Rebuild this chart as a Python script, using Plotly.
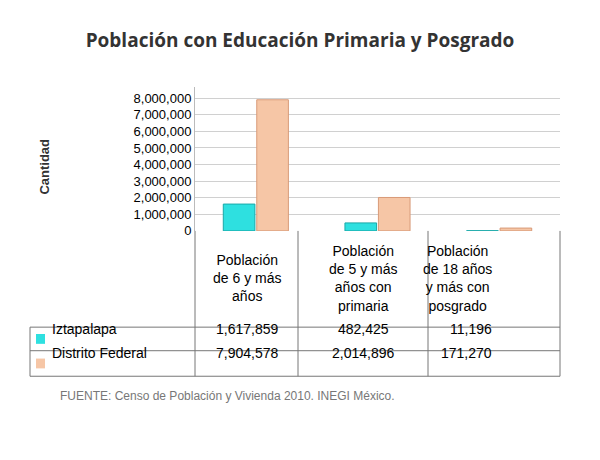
import plotly.graph_objects as go

categories = ["Población<br>de 6 y más<br>años", "Población<br>de 5 y más<br>años con<br>primaria", "Población<br>de 18 años<br>y más con<br>posgrado"]
series_names = ["Iztapalapa", "Distrito Federal"]
iztapalapa = [1617859, 482425, 11196]
distrito = [7904578, 2014896, 171270]
y_ticks = [0, 1000000, 2000000, 3000000, 4000000, 5000000, 6000000, 7000000, 8000000]
colors = ["#2ee0e0", "#f6c6a6"]
lines = ["#1aa8a8", "#d89a78"]

OFF = 8
W, H = 584, 444
def px(x): return (x - OFF) / W
def py(y): return 1 - (y - OFF) / H

x0, x1 = 195, 560
fig = go.Figure()
for name, vals, c, lc in zip(series_names, [iztapalapa, distrito], colors, lines):
    fig.add_bar(x=[0, 1, 2], y=vals, name=name, marker=dict(color=c, line=dict(color=lc, width=1)), width=0.26)

fig.update_layout(
    width=W, height=H, margin=dict(l=0, r=0, t=0, b=0),
    paper_bgcolor="white", plot_bgcolor="white", showlegend=False,
    barmode="group", bargap=0.45, bargroupgap=0.05,
    font=dict(family="Liberation Sans", color="black"),
    xaxis=dict(domain=[px(x0), px(x1)], range=[-0.5, 2.5], showticklabels=False,
               showgrid=False, zeroline=False, showline=False),
    yaxis=dict(domain=[py(235), py(88)], range=[0, 8.7e6], tickvals=y_ticks,
               tickformat=",d", showgrid=True, gridcolor="#d0d0d0", ticks="",
               tickfont=dict(size=13, family="Liberation Sans"), zeroline=False,
               showline=True, linecolor="#bbbbbb"),
    title=dict(text="<b>Población con Educación Primaria y Posgrado</b>", x=px(300), y=py(40),
               xanchor="center", yanchor="middle", font=dict(size=19, color="#333", family="Open Sans")),
)
fig.add_annotation(text="<b>Cantidad</b>", x=px(35), y=py(170), xref="paper", yref="paper",
                   textangle=-90, showarrow=False, font=dict(size=13, color="#333"))

col_x = [195, 298, 428, 560]
row_y = [235, 333, 357, 383]
lc = "#777"
for x in col_x:
    fig.add_shape(type="line", xref="paper", yref="paper", x0=px(x), x1=px(x), y0=py(235), y1=py(383), line=dict(color=lc, width=1))
fig.add_shape(type="line", xref="paper", yref="paper", x0=px(30), x1=px(30), y0=py(333), y1=py(383), line=dict(color=lc, width=1))
for y in row_y[1:]:
    fig.add_shape(type="line", xref="paper", yref="paper", x0=px(30), x1=px(560), y0=py(y), y1=py(y), line=dict(color=lc, width=1))
for i, cat in enumerate(categories):
    fig.add_annotation(text=cat, x=px((col_x[i] + col_x[i + 1]) / 2), y=py(283), xref="paper", yref="paper",
                       showarrow=False, font=dict(size=14), align="center")
for r, (name, vals, c) in enumerate(zip(series_names, [iztapalapa, distrito], colors)):
    yc = (row_y[r + 1] + row_y[r + 2]) / 2
    fig.add_shape(type="rect", xref="paper", yref="paper", x0=px(36), x1=px(45), y0=py(yc - 5), y1=py(yc + 5),
                  fillcolor=c, line=dict(width=0))
    fig.add_annotation(text=name, x=px(50), y=py(yc), xref="paper", yref="paper", xanchor="left",
                       showarrow=False, font=dict(size=14))
    for i, v in enumerate(vals):
        fig.add_annotation(text=f"{v:,}", x=px((col_x[i] + col_x[i + 1]) / 2), y=py(yc), xref="paper", yref="paper",
                           showarrow=False, font=dict(size=14))
fig.add_annotation(text="FUENTE: Censo de Población y Vivienda 2010. INEGI México.", x=px(58), y=py(412),
                   xref="paper", yref="paper", xanchor="left", showarrow=False, font=dict(size=12, color="#777"))
fig.write_html("out.html")
